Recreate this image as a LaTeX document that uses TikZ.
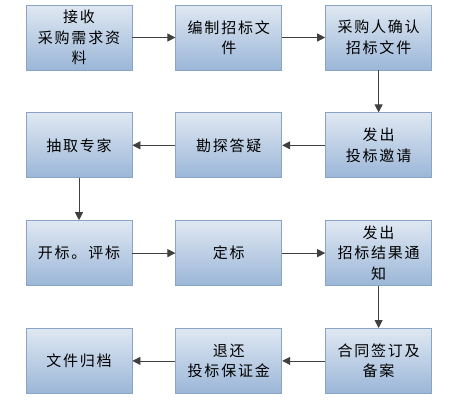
\documentclass[tikz,border=0pt]{standalone}
\usepackage{fontspec}
\setmainfont{Noto Sans CJK SC}
\newfontfamily\boxfont[LetterSpace=12]{Noto Sans CJK SC}
\usetikzlibrary{positioning,arrows.meta}

\definecolor{boxtop}{HTML}{DFE8F2}
\definecolor{boxbot}{HTML}{9BB6D8}
\definecolor{boxline}{HTML}{8AA4C4}

\begin{document}
\begin{tikzpicture}[x=1pt,y=-1pt,
            node distance=42pt and 43pt,
            every node/.style={draw=boxline,line width=0.8pt,
                top color=boxtop,bottom color=boxbot,
                minimum width=106pt,minimum height=65pt,inner sep=2pt,
                align=center,font=\boxfont\fontsize{15}{20.5}\selectfont},
            flow/.style={draw=black!75,line width=0.8pt,-{Triangle[length=8pt,width=8pt]}},
            ]
            \useasboundingbox (0,0) rectangle (452,400);

            % row 1
            \node (receive) at (79,37.5) {接收\\采购需求资\\料};
            \node[right=of receive] (compile) {编制招标文\\件};
            \node[right=of compile] (confirm) {采购人确认\\招标文件};
            % row 2
            \node[below=of confirm] (invite) {发出\\投标邀请};
            \node[left=of invite] (survey) {勘探答疑};
            \node[left=of survey] (experts) {抽取专家};
            % row 3
            \node[below=of experts] (evaluate) {开标。评标};
            \node[right=of evaluate] (award) {定标};
            \node[right=of award] (notice) {发出\\招标结果通\\知};
            % row 4
            \node[below=of notice] (contract) {合同签订及\\备案};
            \node[left=of contract] (refund) {退还\\投标保证金};
            \node[left=of refund] (archive) {文件归档};

            \draw[flow] (receive) -- (compile);
            \draw[flow] (compile) -- (confirm);
            \draw[flow] (confirm) -- (invite);
            \draw[flow] (invite) -- (survey);
            \draw[flow] (survey) -- (experts);
            \draw[flow] (experts) -- (evaluate);
            \draw[flow] (evaluate) -- (award);
            \draw[flow] (award) -- (notice);
            \draw[flow] (notice) -- (contract);
            \draw[flow] (contract) -- (refund);
            \draw[flow] (refund) -- (archive);
\end{tikzpicture}
\end{document}
